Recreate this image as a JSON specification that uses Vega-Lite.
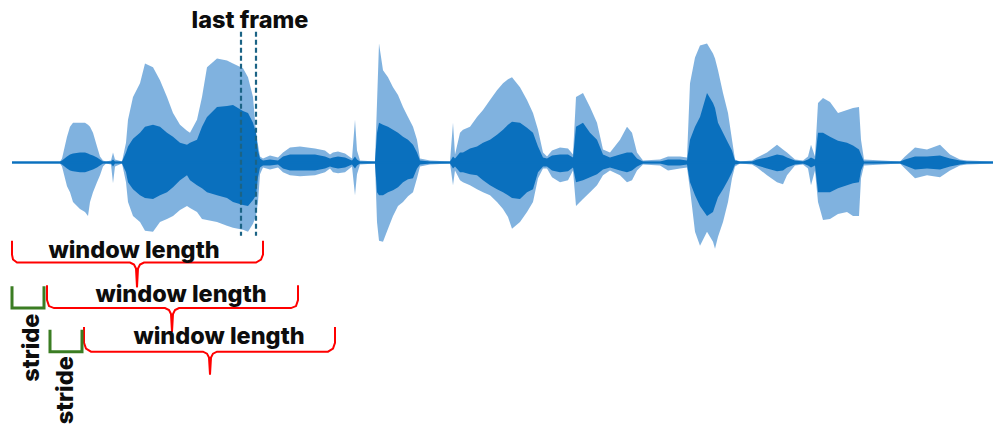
{
  "$schema": "https://vega.github.io/schema/vega-lite/v6.json",
  "width": 994,
  "height": 425,
  "autosize": {"type": "fit", "contains": "padding"},
  "padding": 0,
  "background": "white",
  "config": {"view": {"stroke": null}, "axis": {"disable": true}},
  "datasets": {
    "wave": [
      {"x":12,"ot":1,"ob":-1,"it":1,"ib":-1},
      {"x":60,"ot":1,"ob":-1,"it":1,"ib":-1},
      {"x":62,"ot":4,"ob":-4,"it":2,"ib":-2},
      {"x":67,"ot":26,"ob":-24,"it":6,"ib":-6},
      {"x":70,"ot":36,"ob":-30,"it":8,"ib":-8},
      {"x":73,"ot":40,"ob":-40,"it":9,"ib":-9},
      {"x":80,"ot":40,"ob":-47,"it":10,"ib":-10},
      {"x":85,"ot":40,"ob":-50,"it":10,"ib":-10},
      {"x":88,"ot":38,"ob":-54,"it":9,"ib":-9},
      {"x":90,"ot":36,"ob":-40,"it":8,"ib":-8},
      {"x":93,"ot":30,"ob":-30,"it":7,"ib":-7},
      {"x":97,"ot":16,"ob":-20,"it":5,"ib":-5},
      {"x":100,"ot":6,"ob":-13,"it":3,"ib":-3},
      {"x":103,"ot":2,"ob":-4,"it":1,"ib":-1},
      {"x":106,"ot":1,"ob":-1,"it":1,"ib":-1},
      {"x":111,"ot":2,"ob":-2,"it":1,"ib":-1},
      {"x":113,"ot":10,"ob":-21,"it":3,"ib":-4},
      {"x":115,"ot":3,"ob":-4,"it":1,"ib":-1},
      {"x":122,"ot":1,"ob":-1,"it":1,"ib":-1},
      {"x":126,"ot":20,"ob":-20,"it":10,"ib":-10},
      {"x":128,"ot":43,"ob":-40,"it":16,"ib":-20},
      {"x":133,"ot":66,"ob":-54,"it":24,"ib":-27},
      {"x":140,"ot":80,"ob":-60,"it":30,"ib":-33},
      {"x":145,"ot":100,"ob":-69,"it":36,"ib":-36},
      {"x":153,"ot":96,"ob":-70,"it":38,"ib":-37},
      {"x":160,"ot":83,"ob":-60,"it":36,"ib":-33},
      {"x":167,"ot":66,"ob":-57,"it":30,"ib":-30},
      {"x":173,"ot":50,"ob":-54,"it":26,"ib":-25},
      {"x":180,"ot":38,"ob":-48,"it":20,"ib":-18},
      {"x":187,"ot":32,"ob":-44,"it":18,"ib":-13},
      {"x":190,"ot":30,"ob":-46,"it":20,"ib":-18},
      {"x":197,"ot":43,"ob":-50,"it":23,"ib":-23},
      {"x":202,"ot":66,"ob":-57,"it":36,"ib":-26},
      {"x":207,"ot":96,"ob":-58,"it":46,"ib":-30},
      {"x":217,"ot":105,"ob":-60,"it":56,"ib":-33},
      {"x":227,"ot":103,"ob":-64,"it":57,"ib":-36},
      {"x":233,"ot":100,"ob":-66,"it":58,"ib":-40},
      {"x":243,"ot":95,"ob":-68,"it":52,"ib":-43},
      {"x":248,"ot":86,"ob":-70,"it":50,"ib":-44},
      {"x":253,"ot":66,"ob":-62,"it":40,"ib":-38},
      {"x":256,"ot":30,"ob":-54,"it":30,"ib":-33},
      {"x":258,"ot":18,"ob":-40,"it":12,"ib":-15},
      {"x":260,"ot":6,"ob":-12,"it":4,"ib":-5},
      {"x":263,"ot":4,"ob":-5,"it":2,"ib":-3},
      {"x":270,"ot":7,"ob":-7,"it":3,"ib":-3},
      {"x":278,"ot":5,"ob":-5,"it":2,"ib":-2},
      {"x":283,"ot":10,"ob":-10,"it":6,"ib":-6},
      {"x":290,"ot":15,"ob":-13,"it":8,"ib":-8},
      {"x":300,"ot":16,"ob":-14,"it":8,"ib":-8},
      {"x":315,"ot":14,"ob":-13,"it":8,"ib":-8},
      {"x":325,"ot":12,"ob":-10,"it":6,"ib":-6},
      {"x":330,"ot":8,"ob":-6,"it":4,"ib":-4},
      {"x":333,"ot":10,"ob":-10,"it":5,"ib":-5},
      {"x":338,"ot":11,"ob":-11,"it":6,"ib":-6},
      {"x":345,"ot":9,"ob":-10,"it":5,"ib":-5},
      {"x":352,"ot":4,"ob":-4,"it":2,"ib":-2},
      {"x":355,"ot":43,"ob":-33,"it":6,"ib":-6},
      {"x":357,"ot":12,"ob":-12,"it":3,"ib":-3},
      {"x":360,"ot":2,"ob":-2,"it":1,"ib":-1},
      {"x":375,"ot":1,"ob":-1,"it":1,"ib":-1},
      {"x":377,"ot":60,"ob":-60,"it":30,"ib":-30},
      {"x":379,"ot":120,"ob":-79,"it":40,"ib":-33},
      {"x":383,"ot":93,"ob":-80,"it":38,"ib":-33},
      {"x":388,"ot":86,"ob":-67,"it":36,"ib":-30},
      {"x":393,"ot":76,"ob":-54,"it":33,"ib":-28},
      {"x":398,"ot":68,"ob":-44,"it":30,"ib":-25},
      {"x":403,"ot":56,"ob":-40,"it":26,"ib":-20},
      {"x":408,"ot":46,"ob":-34,"it":23,"ib":-17},
      {"x":413,"ot":36,"ob":-30,"it":18,"ib":-16},
      {"x":417,"ot":23,"ob":-16,"it":10,"ib":-6},
      {"x":420,"ot":4,"ob":-4,"it":2,"ib":-2},
      {"x":430,"ot":2,"ob":-2,"it":1,"ib":-1},
      {"x":450,"ot":1,"ob":-1,"it":1,"ib":-1},
      {"x":453,"ot":40,"ob":-23,"it":6,"ib":-6},
      {"x":455,"ot":8,"ob":-8,"it":4,"ib":-4},
      {"x":460,"ot":30,"ob":-18,"it":10,"ib":-10},
      {"x":463,"ot":33,"ob":-20,"it":10,"ib":-10},
      {"x":470,"ot":36,"ob":-23,"it":14,"ib":-12},
      {"x":477,"ot":46,"ob":-27,"it":16,"ib":-13},
      {"x":483,"ot":53,"ob":-30,"it":20,"ib":-18},
      {"x":490,"ot":63,"ob":-33,"it":23,"ib":-23},
      {"x":497,"ot":73,"ob":-40,"it":28,"ib":-27},
      {"x":503,"ot":80,"ob":-47,"it":33,"ib":-30},
      {"x":508,"ot":84,"ob":-55,"it":38,"ib":-33},
      {"x":512,"ot":86,"ob":-67,"it":41,"ib":-36},
      {"x":520,"ot":76,"ob":-60,"it":40,"ib":-37},
      {"x":527,"ot":63,"ob":-50,"it":35,"ib":-30},
      {"x":533,"ot":50,"ob":-40,"it":30,"ib":-27},
      {"x":538,"ot":33,"ob":-16,"it":16,"ib":-10},
      {"x":543,"ot":10,"ob":-6,"it":5,"ib":-4},
      {"x":547,"ot":6,"ob":-6,"it":4,"ib":-4},
      {"x":552,"ot":12,"ob":-15,"it":7,"ib":-8},
      {"x":560,"ot":15,"ob":-20,"it":8,"ib":-10},
      {"x":568,"ot":14,"ob":-18,"it":8,"ib":-9},
      {"x":573,"ot":8,"ob":-8,"it":5,"ib":-5},
      {"x":576,"ot":66,"ob":-44,"it":36,"ib":-20},
      {"x":583,"ot":70,"ob":-37,"it":40,"ib":-18},
      {"x":590,"ot":56,"ob":-30,"it":30,"ib":-15},
      {"x":597,"ot":40,"ob":-23,"it":23,"ib":-12},
      {"x":603,"ot":13,"ob":-13,"it":8,"ib":-7},
      {"x":610,"ot":10,"ob":-8,"it":5,"ib":-5},
      {"x":620,"ot":23,"ob":-13,"it":8,"ib":-8},
      {"x":627,"ot":36,"ob":-20,"it":10,"ib":-10},
      {"x":632,"ot":30,"ob":-18,"it":10,"ib":-8},
      {"x":637,"ot":10,"ob":-8,"it":4,"ib":-4},
      {"x":643,"ot":2,"ob":-2,"it":1,"ib":-1},
      {"x":660,"ot":3,"ob":-3,"it":1,"ib":-1},
      {"x":668,"ot":6,"ob":-8,"it":3,"ib":-3},
      {"x":680,"ot":6,"ob":-6,"it":3,"ib":-3},
      {"x":687,"ot":5,"ob":-5,"it":2,"ib":-2},
      {"x":690,"ot":80,"ob":-27,"it":23,"ib":-20},
      {"x":695,"ot":106,"ob":-70,"it":36,"ib":-33},
      {"x":700,"ot":118,"ob":-84,"it":46,"ib":-44},
      {"x":707,"ot":120,"ob":-70,"it":70,"ib":-54},
      {"x":713,"ot":110,"ob":-80,"it":60,"ib":-50},
      {"x":715,"ot":105,"ob":-87,"it":55,"ib":-44},
      {"x":718,"ot":93,"ob":-75,"it":40,"ib":-35},
      {"x":723,"ot":70,"ob":-60,"it":30,"ib":-27},
      {"x":728,"ot":50,"ob":-40,"it":20,"ib":-18},
      {"x":732,"ot":23,"ob":-16,"it":12,"ib":-10},
      {"x":735,"ot":3,"ob":-4,"it":2,"ib":-2},
      {"x":740,"ot":1,"ob":-1,"it":1,"ib":-1},
      {"x":752,"ot":2,"ob":-2,"it":1,"ib":-1},
      {"x":757,"ot":5,"ob":-5,"it":3,"ib":-3},
      {"x":767,"ot":10,"ob":-13,"it":5,"ib":-6},
      {"x":777,"ot":18,"ob":-20,"it":8,"ib":-9},
      {"x":783,"ot":13,"ob":-22,"it":7,"ib":-8},
      {"x":787,"ot":10,"ob":-13,"it":5,"ib":-5},
      {"x":795,"ot":3,"ob":-3,"it":2,"ib":-2},
      {"x":803,"ot":2,"ob":-2,"it":1,"ib":-1},
      {"x":808,"ot":6,"ob":-6,"it":3,"ib":-3},
      {"x":811,"ot":18,"ob":-23,"it":5,"ib":-5},
      {"x":815,"ot":6,"ob":-8,"it":3,"ib":-3},
      {"x":818,"ot":60,"ob":-40,"it":30,"ib":-30},
      {"x":823,"ot":65,"ob":-58,"it":30,"ib":-30},
      {"x":830,"ot":61,"ob":-57,"it":26,"ib":-30},
      {"x":838,"ot":50,"ob":-52,"it":22,"ib":-26},
      {"x":847,"ot":53,"ob":-50,"it":20,"ib":-23},
      {"x":853,"ot":55,"ob":-54,"it":17,"ib":-21},
      {"x":859,"ot":56,"ob":-54,"it":13,"ib":-20},
      {"x":861,"ot":23,"ob":-16,"it":8,"ib":-8},
      {"x":864,"ot":3,"ob":-3,"it":1,"ib":-1},
      {"x":900,"ot":1,"ob":-1,"it":1,"ib":-1},
      {"x":905,"ot":6,"ob":-6,"it":3,"ib":-3},
      {"x":915,"ot":15,"ob":-16,"it":6,"ib":-7},
      {"x":927,"ot":13,"ob":-13,"it":6,"ib":-6},
      {"x":940,"ot":18,"ob":-15,"it":7,"ib":-7},
      {"x":950,"ot":8,"ob":-8,"it":4,"ib":-4},
      {"x":960,"ot":3,"ob":-3,"it":2,"ib":-2},
      {"x":967,"ot":2,"ob":-2,"it":1,"ib":-1},
      {"x":993,"ot":1,"ob":-1,"it":1,"ib":-1}
    ],
    "braces": [
      {"seg":"b1L","o":1,"x":12,"y":-79},
      {"seg":"b1L","o":2,"x":12,"y":-93},
      {"seg":"b1L","o":3,"x":13,"y":-98},
      {"seg":"b1L","o":4,"x":17,"y":-101},
      {"seg":"b1L","o":5,"x":130,"y":-101},
      {"seg":"b1L","o":6,"x":134,"y":-103},
      {"seg":"b1L","o":7,"x":136,"y":-107},
      {"seg":"b1L","o":8,"x":137,"y":-126},
      {"seg":"b1R","o":1,"x":137,"y":-126},
      {"seg":"b1R","o":2,"x":138,"y":-107},
      {"seg":"b1R","o":3,"x":140,"y":-103},
      {"seg":"b1R","o":4,"x":144,"y":-101},
      {"seg":"b1R","o":5,"x":256,"y":-101},
      {"seg":"b1R","o":6,"x":261,"y":-98},
      {"seg":"b1R","o":7,"x":263,"y":-93},
      {"seg":"b1R","o":8,"x":263,"y":-79},
      {"seg":"b2L","o":1,"x":47,"y":-124},
      {"seg":"b2L","o":2,"x":47,"y":-139},
      {"seg":"b2L","o":3,"x":49,"y":-145},
      {"seg":"b2L","o":4,"x":54,"y":-147},
      {"seg":"b2L","o":5,"x":165,"y":-147},
      {"seg":"b2L","o":6,"x":169,"y":-149},
      {"seg":"b2L","o":7,"x":171,"y":-153},
      {"seg":"b2L","o":8,"x":172,"y":-171},
      {"seg":"b2R","o":1,"x":172,"y":-171},
      {"seg":"b2R","o":2,"x":173,"y":-153},
      {"seg":"b2R","o":3,"x":175,"y":-149},
      {"seg":"b2R","o":4,"x":179,"y":-147},
      {"seg":"b2R","o":5,"x":291,"y":-147},
      {"seg":"b2R","o":6,"x":296,"y":-145},
      {"seg":"b2R","o":7,"x":298,"y":-139},
      {"seg":"b2R","o":8,"x":298,"y":-124},
      {"seg":"b3L","o":1,"x":84,"y":-166},
      {"seg":"b3L","o":2,"x":84,"y":-182},
      {"seg":"b3L","o":3,"x":86,"y":-188},
      {"seg":"b3L","o":4,"x":91,"y":-191},
      {"seg":"b3L","o":5,"x":203,"y":-191},
      {"seg":"b3L","o":6,"x":207,"y":-193},
      {"seg":"b3L","o":7,"x":209,"y":-197},
      {"seg":"b3L","o":8,"x":210,"y":-214},
      {"seg":"b3R","o":1,"x":210,"y":-214},
      {"seg":"b3R","o":2,"x":211,"y":-197},
      {"seg":"b3R","o":3,"x":213,"y":-193},
      {"seg":"b3R","o":4,"x":217,"y":-191},
      {"seg":"b3R","o":5,"x":328,"y":-191},
      {"seg":"b3R","o":6,"x":333,"y":-188},
      {"seg":"b3R","o":7,"x":335,"y":-182},
      {"seg":"b3R","o":8,"x":335,"y":-166}
    ],
    "strides": [
      {"seg":"s1","o":1,"x":12,"y":-125},
      {"seg":"s1","o":2,"x":12,"y":-147},
      {"seg":"s1","o":3,"x":44,"y":-147},
      {"seg":"s1","o":4,"x":44,"y":-125},
      {"seg":"s2","o":1,"x":50,"y":-169},
      {"seg":"s2","o":2,"x":50,"y":-191},
      {"seg":"s2","o":3,"x":82,"y":-191},
      {"seg":"s2","o":4,"x":82,"y":-169}
    ],
    "frames": [
      {"x":241,"y":132,"y2":-74},
      {"x":256,"y":132,"y2":-74}
    ],
    "labels": [
      {"x":134,"y":-96,"label":"window length"},
      {"x":181,"y":-141,"label":"window length"},
      {"x":219,"y":-183,"label":"window length"},
      {"x":250,"y":136,"label":"last frame"}
    ],
    "vlabels": [
      {"x":32,"y":-187,"label":"stride"},
      {"x":66,"y":-230,"label":"stride"}
    ]
  },
  "layer": [
    {
      "data": {"name": "wave"},
      "mark": {"type": "area", "color": "#72aadb", "opacity": 0.9},
      "encoding": {
        "x": {"field": "x", "type": "quantitative", "scale": {"domain": [0, 994], "nice": false, "zero": false}},
        "y": {"field": "ot", "type": "quantitative", "scale": {"domain": [-261, 164], "nice": false, "zero": false}},
        "y2": {"field": "ob"}
      }
    },
    {
      "data": {"name": "wave"},
      "mark": {"type": "area", "color": "#0a70be"},
      "encoding": {
        "x": {"field": "x", "type": "quantitative"},
        "y": {"field": "it", "type": "quantitative"},
        "y2": {"field": "ib"}
      }
    },
    {
      "data": {"values": [{"x": 12, "x2": 993, "y": 0}]},
      "mark": {"type": "rule", "color": "#0a70be", "strokeWidth": 1.5},
      "encoding": {
        "x": {"field": "x", "type": "quantitative"},
        "x2": {"field": "x2"},
        "y": {"field": "y", "type": "quantitative"}
      }
    },
    {
      "data": {"name": "frames"},
      "mark": {"type": "rule", "color": "#1b6385", "strokeWidth": 2.2, "strokeDash": [5, 3]},
      "encoding": {
        "x": {"field": "x", "type": "quantitative"},
        "y": {"field": "y", "type": "quantitative"},
        "y2": {"field": "y2"}
      }
    },
    {
      "data": {"name": "braces"},
      "mark": {"type": "line", "color": "#ff0000", "strokeWidth": 2, "interpolate": "linear"},
      "encoding": {
        "x": {"field": "x", "type": "quantitative"},
        "y": {"field": "y", "type": "quantitative"},
        "detail": {"field": "seg"},
        "order": {"field": "o"}
      }
    },
    {
      "data": {"name": "strides"},
      "mark": {"type": "line", "color": "#3b7d23", "strokeWidth": 3, "strokeJoin": "miter"},
      "encoding": {
        "x": {"field": "x", "type": "quantitative"},
        "y": {"field": "y", "type": "quantitative"},
        "detail": {"field": "seg"},
        "order": {"field": "o"}
      }
    },
    {
      "data": {"name": "labels"},
      "mark": {"type": "text", "font": "Inter", "fontWeight": 800, "fontSize": 23.5, "color": "#0d0d0d", "align": "center", "baseline": "alphabetic"},
      "encoding": {
        "x": {"field": "x", "type": "quantitative"},
        "y": {"field": "y", "type": "quantitative"},
        "text": {"field": "label"}
      }
    },
    {
      "data": {"name": "vlabels"},
      "mark": {"type": "text", "font": "Inter", "fontWeight": 800, "fontSize": 23.5, "color": "#0d0d0d", "align": "center", "baseline": "middle", "angle": 270},
      "encoding": {
        "x": {"field": "x", "type": "quantitative"},
        "y": {"field": "y", "type": "quantitative"},
        "text": {"field": "label"}
      }
    }
  ]
}
